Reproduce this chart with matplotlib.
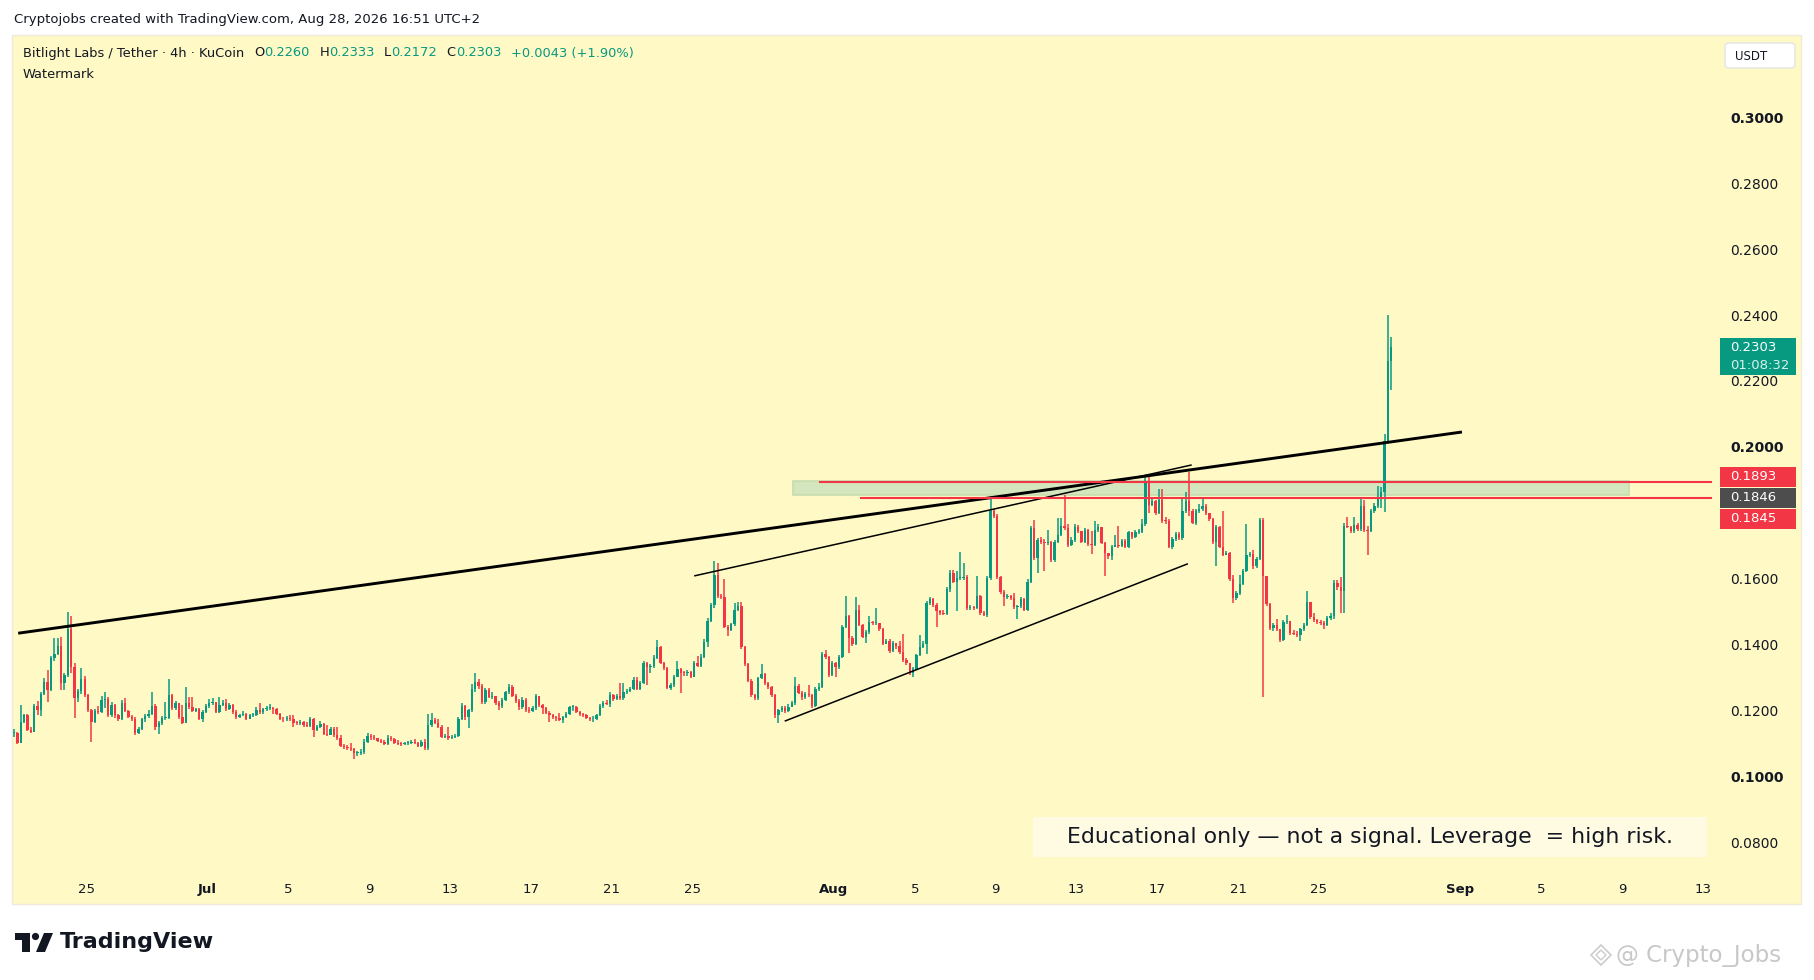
import numpy as np
import pandas as pd
import matplotlib
matplotlib.use("Agg")
import matplotlib.pyplot as plt
import matplotlib.dates as mdates
from matplotlib.patches import Rectangle, Polygon, Circle, FancyBboxPatch

# ---- 4h candles (KuCoin BTL/USDT), prices in 1e-4 USDT, open = previous close ----
first_open = 1130
last_candle = "2026-08-28 14:00"

close_jun21_jul13 = [
    1132, 1102, 1164, 1185, 1140, 1135, 1213, 1200, 1249, 1287,
    1263, 1358, 1371, 1395, 1282, 1307, 1446, 1332, 1236, 1258,
    1294, 1246, 1201, 1165, 1199, 1196, 1231, 1233, 1185, 1216,
    1185, 1175, 1223, 1199, 1180, 1175, 1130, 1142, 1172, 1182,
    1190, 1213, 1148, 1162, 1177, 1178, 1246, 1206, 1221, 1180,
    1162, 1221, 1211, 1199, 1203, 1175, 1196, 1213, 1221, 1224,
    1196, 1216, 1223, 1203, 1216, 1196, 1180, 1186, 1190, 1175,
    1185, 1187, 1201, 1196, 1203, 1206, 1207, 1203, 1189, 1175,
    1172, 1178, 1172, 1162, 1160, 1163, 1155, 1152, 1172, 1140,
    1150, 1158, 1128, 1126, 1142, 1125, 1115, 1092, 1090, 1086,
    1081, 1069, 1070, 1074, 1105, 1122, 1120, 1115, 1108, 1105,
    1098, 1115, 1112, 1102, 1098, 1097, 1100, 1102, 1104, 1102,
    1092, 1105, 1084, 1155, 1170, 1162, 1150, 1120, 1122, 1115, 1120]
high_jun21_jul13 = [
    1142, 1135, 1216, 1190, 1188, 1150, 1218, 1228, 1255, 1297,
    1322, 1365, 1418, 1420, 1423, 1312, 1499, 1486, 1345, 1265,
    1327, 1304, 1250, 1205, 1205, 1212, 1243, 1257, 1240, 1225,
    1220, 1190, 1230, 1236, 1202, 1186, 1180, 1150, 1178, 1190,
    1200, 1256, 1218, 1168, 1182, 1225, 1294, 1250, 1228, 1222,
    1216, 1270, 1240, 1240, 1208, 1208, 1200, 1218, 1235, 1236,
    1226, 1241, 1232, 1235, 1222, 1220, 1200, 1190, 1198, 1192,
    1190, 1192, 1210, 1223, 1208, 1212, 1218, 1210, 1206, 1192,
    1180, 1182, 1185, 1185, 1168, 1170, 1168, 1165, 1180, 1178,
    1155, 1168, 1160, 1155, 1150, 1148, 1150, 1125, 1098, 1095,
    1100, 1085, 1075, 1082, 1112, 1132, 1128, 1125, 1116, 1112,
    1110, 1125, 1122, 1115, 1110, 1105, 1104, 1106, 1110, 1112,
    1105, 1110, 1112, 1190, 1193, 1176, 1175, 1155, 1128, 1150, 1125]
low_jun21_jul13 = [
    1120, 1097, 1100, 1160, 1138, 1130, 1133, 1185, 1183, 1245,
    1226, 1258, 1350, 1368, 1263, 1262, 1300, 1312, 1178, 1226,
    1250, 1240, 1195, 1105, 1160, 1190, 1192, 1206, 1180, 1180,
    1178, 1168, 1170, 1195, 1176, 1168, 1125, 1128, 1140, 1165,
    1178, 1185, 1140, 1128, 1155, 1170, 1175, 1200, 1200, 1175,
    1158, 1160, 1205, 1195, 1195, 1170, 1165, 1192, 1208, 1215,
    1192, 1192, 1212, 1198, 1200, 1190, 1175, 1178, 1182, 1170,
    1172, 1180, 1183, 1190, 1190, 1198, 1200, 1190, 1185, 1170,
    1165, 1168, 1168, 1148, 1155, 1155, 1150, 1148, 1148, 1120,
    1138, 1145, 1125, 1122, 1124, 1120, 1110, 1088, 1082, 1080,
    1075, 1051, 1062, 1064, 1068, 1100, 1110, 1110, 1104, 1100,
    1095, 1095, 1108, 1098, 1094, 1092, 1094, 1096, 1099, 1098,
    1088, 1090, 1080, 1080, 1150, 1158, 1145, 1115, 1115, 1110, 1112]

close_jul13_jul30 = [
    1122, 1175, 1213, 1180, 1200, 1266, 1285, 1273, 1226, 1263,
    1241, 1244, 1221, 1213, 1231, 1254, 1271, 1244, 1229, 1211,
    1231, 1200, 1198, 1206, 1243, 1216, 1206, 1193, 1186, 1180,
    1176, 1170, 1180, 1188, 1209, 1210, 1196, 1189, 1185, 1178,
    1172, 1174, 1185, 1213, 1223, 1220, 1246, 1233, 1243, 1236,
    1256, 1260, 1265, 1292, 1266, 1282, 1344, 1332, 1335, 1360,
    1391, 1344, 1327, 1269, 1276, 1302, 1324, 1314, 1312, 1317,
    1302, 1344, 1334, 1362, 1408, 1472, 1519, 1610, 1547, 1545,
    1454, 1443, 1462, 1506, 1516, 1391, 1340, 1290, 1246, 1236,
    1297, 1310, 1284, 1271, 1246, 1185, 1200, 1206, 1198, 1211,
    1222, 1273, 1253, 1239, 1248, 1246, 1213]
high_jul13_jul30 = [
    1128, 1180, 1221, 1216, 1205, 1280, 1312, 1295, 1280, 1268,
    1268, 1256, 1240, 1228, 1238, 1260, 1280, 1276, 1250, 1235,
    1240, 1236, 1210, 1212, 1250, 1240, 1220, 1210, 1198, 1190,
    1182, 1192, 1184, 1195, 1213, 1215, 1212, 1198, 1192, 1190,
    1180, 1182, 1190, 1220, 1228, 1230, 1255, 1250, 1250, 1282,
    1284, 1266, 1272, 1300, 1300, 1290, 1350, 1348, 1340, 1368,
    1413, 1395, 1348, 1330, 1282, 1308, 1350, 1328, 1320, 1322,
    1318, 1350, 1365, 1370, 1415, 1480, 1525, 1654, 1646, 1552,
    1600, 1460, 1466, 1526, 1530, 1530, 1395, 1345, 1295, 1250,
    1302, 1340, 1312, 1285, 1275, 1250, 1205, 1212, 1212, 1218,
    1228, 1302, 1280, 1258, 1255, 1277, 1250]
low_jul13_jul30 = [
    1115, 1118, 1170, 1170, 1145, 1195, 1255, 1265, 1220, 1220,
    1236, 1235, 1215, 1200, 1208, 1228, 1250, 1240, 1222, 1200,
    1205, 1195, 1192, 1195, 1200, 1210, 1190, 1188, 1165, 1175,
    1168, 1166, 1162, 1178, 1185, 1198, 1192, 1184, 1180, 1174,
    1168, 1165, 1170, 1182, 1208, 1215, 1210, 1228, 1230, 1232,
    1232, 1250, 1255, 1262, 1262, 1262, 1280, 1276, 1312, 1328,
    1355, 1340, 1322, 1264, 1262, 1270, 1300, 1253, 1305, 1305,
    1298, 1300, 1330, 1330, 1360, 1393, 1468, 1510, 1540, 1538,
    1450, 1425, 1440, 1455, 1500, 1385, 1335, 1285, 1240, 1232,
    1230, 1295, 1278, 1265, 1240, 1178, 1162, 1195, 1192, 1195,
    1210, 1215, 1248, 1232, 1235, 1240, 1208]

close_jul31_aug13 = [
    1264, 1272, 1371, 1361, 1308, 1345, 1331, 1363, 1454, 1485,
    1419, 1402, 1505, 1459, 1424, 1439, 1467, 1464, 1466, 1446,
    1402, 1409, 1381, 1404, 1394, 1378, 1353, 1343, 1313, 1325,
    1368, 1392, 1402, 1527, 1537, 1520, 1500, 1496, 1492, 1568,
    1618, 1591, 1601, 1603, 1605, 1510, 1515, 1512, 1547, 1495,
    1490, 1601, 1804, 1790, 1604, 1558, 1543, 1546, 1540, 1513,
    1516, 1537, 1505, 1591, 1753, 1662, 1717, 1712, 1707, 1710,
    1655, 1712, 1733, 1760, 1753, 1702, 1718, 1758, 1743, 1712]
high_jul31_aug13 = [
    1270, 1282, 1378, 1384, 1365, 1350, 1348, 1368, 1460, 1546,
    1490, 1425, 1545, 1520, 1462, 1445, 1485, 1472, 1510, 1466,
    1450, 1415, 1415, 1410, 1405, 1410, 1432, 1358, 1345, 1330,
    1372, 1429, 1410, 1532, 1545, 1540, 1525, 1505, 1505, 1575,
    1625, 1625, 1622, 1682, 1648, 1612, 1520, 1518, 1608, 1550,
    1500, 1608, 1851, 1811, 1795, 1608, 1565, 1552, 1550, 1555,
    1520, 1545, 1540, 1598, 1760, 1778, 1722, 1725, 1720, 1748,
    1715, 1718, 1783, 1783, 1854, 1765, 1725, 1765, 1762, 1745]
low_jul31_aug13 = [
    1210, 1258, 1268, 1355, 1302, 1305, 1300, 1325, 1360, 1450,
    1373, 1395, 1398, 1455, 1418, 1405, 1432, 1458, 1460, 1440,
    1398, 1400, 1375, 1378, 1385, 1372, 1348, 1338, 1308, 1302,
    1322, 1365, 1390, 1371, 1520, 1515, 1452, 1490, 1488, 1488,
    1560, 1585, 1500, 1595, 1596, 1505, 1505, 1505, 1508, 1490,
    1485, 1484, 1596, 1785, 1598, 1552, 1517, 1538, 1535, 1508,
    1477, 1510, 1500, 1500, 1588, 1655, 1618, 1705, 1624, 1702,
    1650, 1650, 1708, 1728, 1748, 1695, 1698, 1712, 1738, 1708]

close_aug13_aug28 = [
    1746, 1705, 1702, 1746, 1758, 1709, 1677, 1667, 1697, 1702,
    1700, 1715, 1697, 1740, 1725, 1740, 1742, 1766, 1894, 1824,
    1834, 1798, 1837, 1776, 1774, 1697, 1720, 1736, 1722, 1806,
    1834, 1806, 1770, 1806, 1810, 1821, 1798, 1780, 1712, 1758,
    1697, 1672, 1677, 1598, 1540, 1557, 1584, 1624, 1672, 1675,
    1638, 1659, 1778, 1608, 1523, 1449, 1459, 1446, 1414, 1469,
    1470, 1436, 1432, 1429, 1446, 1459, 1530, 1483, 1473, 1469,
    1465, 1459, 1480, 1487, 1588, 1574, 1563, 1760, 1758, 1743,
    1763, 1750, 1819, 1748, 1745, 1806, 1819, 1844, 1864, 2019,
    2260, 2303]
high_aug13_aug28 = [
    1752, 1750, 1743, 1776, 1765, 1755, 1712, 1675, 1702, 1733,
    1760, 1720, 1720, 1745, 1742, 1748, 1750, 1780, 1911, 1918,
    1842, 1840, 1872, 1872, 1786, 1780, 1725, 1742, 1740, 1842,
    1864, 1925, 1810, 1812, 1825, 1844, 1825, 1800, 1785, 1762,
    1760, 1805, 1685, 1680, 1610, 1562, 1610, 1630, 1766, 1680,
    1688, 1665, 1785, 1785, 1608, 1525, 1465, 1476, 1448, 1475,
    1490, 1470, 1445, 1442, 1450, 1465, 1563, 1528, 1495, 1478,
    1475, 1470, 1485, 1495, 1595, 1595, 1606, 1768, 1786, 1760,
    1786, 1770, 1847, 1839, 1760, 1812, 1830, 1880, 1878, 2040,
    2400, 2333]
low_aug13_aug28 = [
    1708, 1700, 1675, 1698, 1740, 1704, 1608, 1660, 1655, 1695,
    1694, 1695, 1692, 1692, 1720, 1722, 1735, 1738, 1760, 1800,
    1820, 1792, 1795, 1770, 1765, 1692, 1690, 1715, 1718, 1718,
    1800, 1790, 1765, 1762, 1798, 1805, 1794, 1775, 1705, 1638,
    1692, 1668, 1670, 1592, 1525, 1535, 1550, 1580, 1620, 1665,
    1630, 1632, 1655, 1240, 1518, 1444, 1440, 1440, 1408, 1410,
    1462, 1430, 1428, 1422, 1410, 1440, 1455, 1478, 1468, 1462,
    1460, 1446, 1455, 1475, 1478, 1565, 1495, 1495, 1752, 1738,
    1738, 1745, 1745, 1742, 1672, 1740, 1800, 1815, 1815, 1803,
    2015, 2172]

# ---- drawings (date, price) ----
main_trend = [("2026-06-21 15:00", 0.1434), ("2026-09-01 02:00", 0.2045)]
wedge_top = [("2026-07-25 02:00", 0.1608), ("2026-08-18 17:00", 0.1945)]
wedge_bottom = [("2026-07-29 13:30", 0.1167), ("2026-08-18 12:30", 0.1645)]
red_levels = [("2026-07-31 08:00", 0.1893), ("2026-08-02 08:00", 0.1845)]
zone_dates = ["2026-07-29 23:00", "2026-09-09 08:00"]
zone_prices = [0.1853, 0.1895]

# 0.18 sits under the level tags, so the scale shows no label there
price_ticks = [0.08, 0.10, 0.12, 0.14, 0.16, 0.20, 0.22, 0.24, 0.26, 0.28, 0.30]
bold_ticks = [0.10, 0.20, 0.30]
date_ticks = ["2026-06-25", "2026-07-01", "2026-07-05", "2026-07-09", "2026-07-13",
              "2026-07-17", "2026-07-21", "2026-07-25", "2026-08-01", "2026-08-05",
              "2026-08-09", "2026-08-13", "2026-08-17", "2026-08-21", "2026-08-25",
              "2026-09-01", "2026-09-05", "2026-09-09", "2026-09-13"]
date_labels = ["25", "Jul", "5", "9", "13", "17", "21", "25", "Aug", "5",
               "9", "13", "17", "21", "25", "Sep", "5", "9", "13"]

header_parts = [("Bitlight Labs / Tether · 4h · KuCoin", "k"), ("O", "k"), ("0.2260", "g"),
                ("H", "k"), ("0.2333", "g"), ("L", "k"), ("0.2172", "g"),
                ("C", "k"), ("0.2303", "g"), ("+0.0043 (+1.90%)", "g")]

UP = "#089981"
DOWN = "#F23645"
PANEL = "#fff9c6"
INK = "#131722"

# ---- build OHLC ----
close = np.array(close_jun21_jul13 + close_jul13_jul30 + close_jul31_aug13 + close_aug13_aug28) / 1e4
high = np.array(high_jun21_jul13 + high_jul13_jul30 + high_jul31_aug13 + high_aug13_aug28) / 1e4
low = np.array(low_jun21_jul13 + low_jul13_jul30 + low_jul31_aug13 + low_aug13_aug28) / 1e4
opn = np.concatenate([[first_open / 1e4], close[:-1]])
high = np.maximum(high, np.maximum(opn, close))
low = np.minimum(low, np.minimum(opn, close))
times = pd.date_range(end=last_candle, periods=len(close), freq="4h")
x = mdates.date2num(times.to_pydatetime())
up = close >= opn
colors = np.where(up, UP, DOWN)


def dn(s):
    return mdates.date2num(pd.Timestamp(s).to_pydatetime())


fig = plt.figure(figsize=(18.14, 9.80), dpi=100)
fig.patch.set_facecolor("white")

# background layer in pixel coords
bg = fig.add_axes([0, 0, 1, 1], zorder=0)
bg.set_xlim(0, 1814)
bg.set_ylim(980, 0)
bg.axis("off")
bg.add_patch(Rectangle((12, 35), 1789, 869, facecolor=PANEL, edgecolor="#efeadb", lw=1))

# main chart
ax = fig.add_axes([12 / 1814, 1 - 870 / 980, 1700 / 1814, 835 / 980], zorder=1)
ax.set_facecolor("none")
for s in ax.spines.values():
    s.set_visible(False)
ax.set_xlim(dn("2026-06-21 07:40"), dn("2026-09-13 11:00"))
ax.set_ylim(0.0715, 0.32505)

# zone
zx0, zx1 = dn(zone_dates[0]), dn(zone_dates[1])
ax.add_patch(Rectangle((zx0, zone_prices[0]), zx1 - zx0, zone_prices[1] - zone_prices[0],
                       facecolor="#d3e6bd", edgecolor="#c6ddae", lw=1.2, zorder=1))

# candles
body_w = 0.7 * 4 / 24
ax.vlines(x, low, high, colors=colors, linewidth=1.1, zorder=2)
body_h = np.maximum(np.abs(close - opn), 0.0003)
ax.bar(x, body_h, width=body_w, bottom=np.minimum(opn, close), color=colors, linewidth=0, zorder=3)

# drawings
for line, lw in [(main_trend, 2.1), (wedge_top, 1.1), (wedge_bottom, 1.1)]:
    ax.plot([dn(p[0]) for p in line], [p[1] for p in line], color="black", lw=lw,
            solid_capstyle="butt", zorder=4)
xr = ax.get_xlim()[1]
for d0, lvl in red_levels:
    ax.plot([dn(d0), xr], [lvl, lvl], color=DOWN, lw=1.5, zorder=4)

# axes ticks
ax.yaxis.tick_right()
ax.set_yticks(price_ticks)
ax.set_yticklabels([f"{p:.4f}" for p in price_ticks])
ax.tick_params(axis="y", length=0, pad=13, labelsize=10, labelcolor=INK)
for lab, p in zip(ax.get_yticklabels(), price_ticks):
    if any(abs(p - b) < 1e-9 for b in bold_ticks):
        lab.set_fontweight("bold")
ax.set_xticks([dn(d) for d in date_ticks])
ax.set_xticklabels(date_labels)
ax.tick_params(axis="x", length=0, pad=9, labelsize=9.5, labelcolor=INK)
for lab in ax.get_xticklabels():
    if lab.get_text() in ("Jul", "Aug", "Sep"):
        lab.set_fontweight("bold")

# overlay in pixel coords
ov = fig.add_axes([0, 0, 1, 1], zorder=3)
ov.set_xlim(0, 1814)
ov.set_ylim(980, 0)
ov.axis("off")
ov.patch.set_alpha(0)


def price_px(p):
    return 980 - ax.transData.transform((x[0], p))[1]


# right side price tags
ov.add_patch(Rectangle((1720, price_px(0.2303) - 9), 76, 37, facecolor=UP, edgecolor="none"))
ov.text(1730, price_px(0.2303), "0.2303", color="white", fontsize=9.5, va="center")
ov.text(1730, price_px(0.2303) + 18, "01:08:32", color="#d9f2ec", fontsize=9.5, va="center")
yc = price_px(0.1846)
for dy, col, txt in [(-21, DOWN, "0.1893"), (0, "#4d4d4d", "0.1846"), (21, DOWN, "0.1845")]:
    ov.add_patch(Rectangle((1720, yc + dy - 10), 76, 20, facecolor=col, edgecolor="none"))
    ov.text(1730, yc + dy, txt, color="white", fontsize=9.5, va="center")

# USDT box
ov.add_patch(FancyBboxPatch((1725, 43), 70, 25, boxstyle="round,pad=0,rounding_size=4",
                            facecolor="white", edgecolor="#e3e3e3", lw=1))
ov.text(1735, 56, "USDT", fontsize=8.5, color=INK, va="center")

# header texts
ov.text(14, 20, "Cryptojobs created with TradingView.com, Aug 28, 2026 16:51 UTC+2",
        fontsize=9.5, color=INK, va="center")
prev = ov.text(23, 53, header_parts[0][0], fontsize=9.4, color=INK, va="center")
for txt, c in header_parts[1:]:
    gap = 7 if c == "k" or txt.startswith("+") else 0
    prev = ov.annotate(txt, xy=(1, 0), xycoords=prev, xytext=(gap, 0), textcoords="offset points",
                       fontsize=9.4, color=INK if c == "k" else UP, va="bottom", ha="left")
ov.text(23, 74, "Watermark", fontsize=9.4, color=INK, va="center")

# disclaimer box
ov.add_patch(Rectangle((1033, 817), 674, 40, facecolor="#fffbe3", edgecolor="none"))
ov.text(1370, 837, "Educational only — not a signal. Leverage  = high risk.",
        fontsize=15.8, color=INK, ha="center", va="center")

# TradingView logo
ov.add_patch(Polygon([(15, 933), (30, 933), (30, 952), (22, 952), (22, 940), (15, 940)],
                     closed=True, facecolor=INK, edgecolor="none"))
ov.add_patch(Circle((35.5, 936.5), 3.6, facecolor=INK, edgecolor="none"))
ov.add_patch(Polygon([(44, 933), (53, 933), (45, 952), (36, 952)], closed=True,
                     facecolor=INK, edgecolor="none"))
ov.text(60, 942, "TradingView", fontsize=16, fontweight="bold", color=INK, va="center")

# watermark
ov.add_patch(Polygon([(1601, 945), (1611, 955), (1601, 965), (1591, 955)], closed=True,
                     facecolor="none", edgecolor="#cccccc", lw=1.2))
ov.add_patch(Polygon([(1601, 950), (1606, 955), (1601, 960), (1596, 955)], closed=True,
                     facecolor="none", edgecolor="#cccccc", lw=1))
ov.text(1616, 955, "@ Crypto_Jobs", fontsize=16.5, color="#c8c8c8", va="center")

fig.savefig("out.png", dpi=100, facecolor="white")
